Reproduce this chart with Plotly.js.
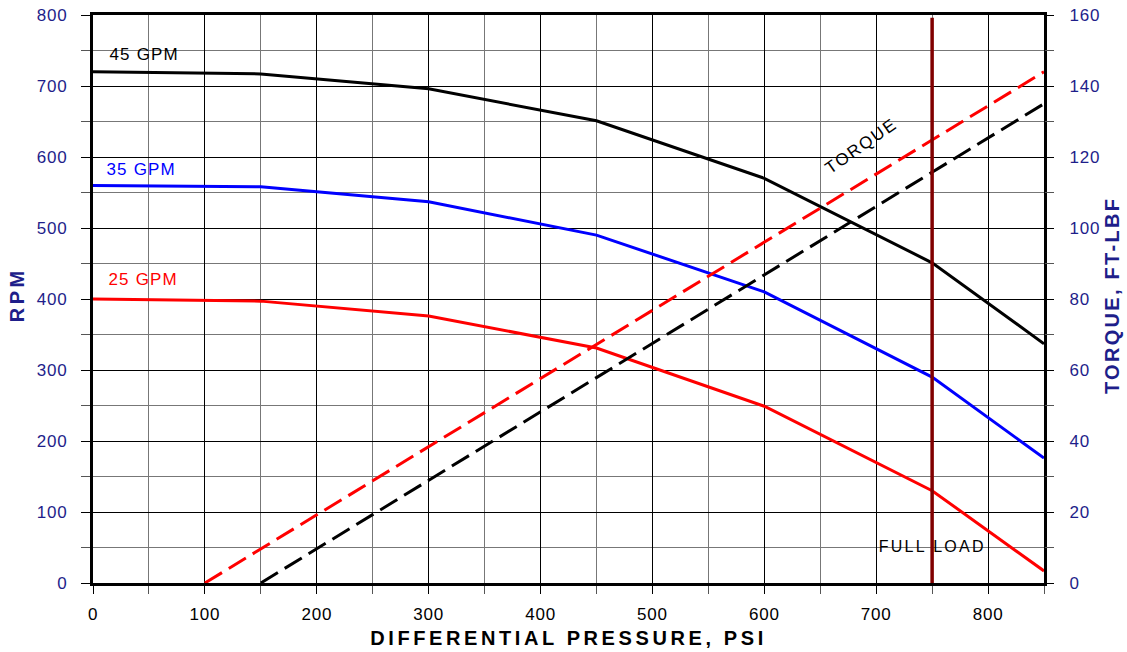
<!DOCTYPE html>
<html>
<head>
<meta charset="utf-8">
<script src="https://cdn.plot.ly/plotly-3.0.1.min.js"></script>
<style>
html,body{margin:0;padding:0;background:#fff;}
#chart{width:1127px;height:652px;}
.xtick text, .ytick text, .y2tick text {letter-spacing: 0.8px;}
</style>
</head>
<body>
<div id="chart"></div>
<script>
const pressure = [0, 150, 300, 450, 600, 750, 850];
const rpm45 = [720, 717, 696, 651, 570, 451, 337];
const rpm35 = [560, 558, 537, 490, 410, 290, 176];
const rpm25 = [400, 397, 376, 331, 249, 130, 17];
const torqueRedX = [100, 850];
const torqueRedY = [0, 144];
const torqueBlackX = [150, 850];
const torqueBlackY = [0, 135];
const fullLoadX = 750;

const navy = '#1e1e8a';
const font = 'Liberation Sans, Arial, sans-serif';

const traces = [
  {x: pressure, y: rpm45, mode: 'lines', line: {color: '#000', width: 3}, yaxis: 'y'},
  {x: pressure, y: rpm35, mode: 'lines', line: {color: '#0000ff', width: 3}, yaxis: 'y'},
  {x: pressure, y: rpm25, mode: 'lines', line: {color: '#ff0000', width: 3}, yaxis: 'y'},
  {x: torqueRedX, y: torqueRedY, mode: 'lines', line: {color: '#ff0000', width: 3, dash: '20px,8px'}, yaxis: 'y2'},
  {x: torqueBlackX, y: torqueBlackY, mode: 'lines', line: {color: '#000', width: 3, dash: '20px,8px'}, yaxis: 'y2'}
];

const layout = {
  width: 1127, height: 652,
  margin: {l: 93, r: 83, t: 15, b: 69},
  showlegend: false,
  paper_bgcolor: '#fff', plot_bgcolor: '#fff',
  font: {family: font},
  xaxis: {
    range: [0, 850], dtick: 100, tick0: 0,
    showgrid: true, gridcolor: '#000', gridwidth: 1,
    ticks: 'outside', ticklen: 8, tickcolor: '#000', ticklabelstandoff: 6,
    minor: {dtick: 50, showgrid: true, gridcolor: '#777', gridwidth: 1, ticks: 'outside', ticklen: 8, tickcolor: '#555'},
    showline: true, linecolor: '#000', linewidth: 3, mirror: true,
    zeroline: false,
    tickfont: {size: 17, color: '#000', family: font}
  },
  yaxis: {
    range: [0, 800], dtick: 100, tick0: 0,
    showgrid: true, gridcolor: '#000', gridwidth: 1,
    ticks: 'outside', ticklen: 9, tickcolor: '#000', ticklabelstandoff: 10,
    minor: {dtick: 50, showgrid: true, gridcolor: '#777', gridwidth: 1, ticks: 'outside', ticklen: 9, tickcolor: '#555'},
    showline: true, linecolor: '#000', linewidth: 3, mirror: true,
    zeroline: false,
    tickfont: {size: 17, color: navy, family: font}
  },
  yaxis2: {
    range: [0, 160], dtick: 20, tick0: 0, overlaying: 'y', side: 'right',
    showgrid: false, zeroline: false,
    ticks: 'outside', ticklen: 9, tickcolor: '#000', ticklabelstandoff: 12,
    minor: {dtick: 10, ticks: 'outside', ticklen: 9, tickcolor: '#555', showgrid: false},
    tickfont: {size: 17, color: navy, family: font}
  },
  shapes: [
    {type: 'line', xref: 'x', yref: 'y', x0: fullLoadX, x1: fullLoadX, y0: -14, y1: 796, line: {color: '#800000', width: 3.5}}
  ],
  annotations: [
    {x: 16, y: 745, xref: 'x', yref: 'y', text: '45 GPM', showarrow: false, xanchor: 'left', font: {size: 17, color: '#000', family: font}},
    {x: 13, y: 582, xref: 'x', yref: 'y', text: '35 GPM', showarrow: false, xanchor: 'left', font: {size: 17, color: '#0000ff', family: font}},
    {x: 15, y: 428, xref: 'x', yref: 'y', text: '25 GPM', showarrow: false, xanchor: 'left', font: {size: 17, color: '#ff0000', family: font}},
    {x: 686, y: 615, xref: 'x', yref: 'y', text: 'TORQUE', showarrow: false, textangle: -35, xanchor: 'center', yanchor: 'middle', font: {size: 17, color: '#000', family: font}},
    {x: fullLoadX, y: 51, xref: 'x', yref: 'y', text: 'FULL LOAD', showarrow: false, xanchor: 'center', yanchor: 'middle', font: {size: 16, color: '#000', family: font}},
    {x: 0.5, y: -0.0968, xref: 'paper', yref: 'paper', text: 'DIFFERENTIAL PRESSURE, PSI', showarrow: false, xanchor: 'center', yanchor: 'middle', font: {size: 20, color: '#000', family: font, weight: 'bold'}},
    {x: -0.0799, y: 0.507, xref: 'paper', yref: 'paper', text: 'RPM', showarrow: false, textangle: -90, xanchor: 'center', yanchor: 'middle', font: {size: 20, color: navy, family: font, weight: 'bold'}},
    {x: 1.0715, y: 0.507, xref: 'paper', yref: 'paper', text: 'TORQUE, FT-LBF', showarrow: false, textangle: -90, xanchor: 'center', yanchor: 'middle', font: {size: 20, color: navy, family: font, weight: 'bold'}}
  ]
};

const spacing = {
  '45 GPM': 1.2, '35 GPM': 1.2, '25 GPM': 1.2, 'TORQUE': 1.8, 'FULL LOAD': 2.3,
  'DIFFERENTIAL PRESSURE, PSI': 3.6, 'RPM': 3.5, 'TORQUE, FT-LBF': 2.3
};

Plotly.newPlot('chart', traces, layout, {displayModeBar: false, staticPlot: true}).then(function () {
  document.querySelectorAll('.annotation-text').forEach(function (t) {
    const s = spacing[t.textContent];
    if (s) t.style.letterSpacing = s + 'px';
  });
});
</script>
</body>
</html>
